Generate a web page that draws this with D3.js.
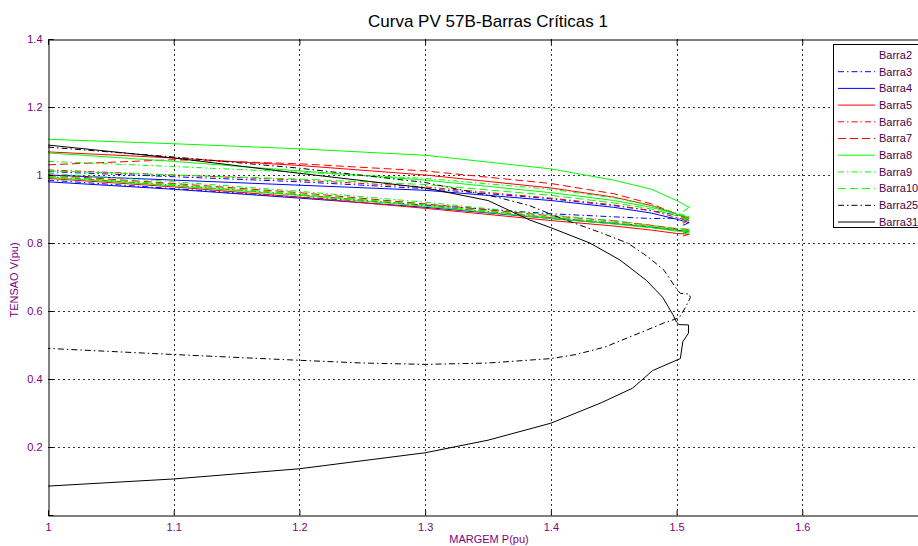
<!DOCTYPE html>
<html>
<head>
<meta charset="utf-8">
<script src="https://cdn.jsdelivr.net/npm/d3@7/dist/d3.min.js"></script>
<style>
  html, body { margin: 0; padding: 0; background: #fff; }
  svg { display: block; font-family: Arial, "Liberation Sans", sans-serif; }
</style>
</head>
<body>
<svg id="chart" width="918" height="546"></svg>
<script>
// Load margin P (pu) sampled along the upper branches of the bus curves
const margem = [1.0, 1.1, 1.2, 1.3, 1.4, 1.45, 1.48, 1.5, 1.51, 1.505];

// Bus voltages V (pu) at each margin value
const barra3a  = [1.010, 0.995, 0.980, 0.960, 0.930, 0.910, 0.895, 0.882, 0.876, 0.870];
const barra3b  = [0.985, 0.960, 0.935, 0.912, 0.886, 0.877, 0.872, 0.873, 0.874, 0.868];
const barra4a  = [1.000, 0.985, 0.970, 0.955, 0.925, 0.905, 0.888, 0.870, 0.860, 0.852];
const barra4b  = [0.980, 0.958, 0.932, 0.905, 0.872, 0.857, 0.846, 0.838, 0.834, 0.828];
const barra5a  = [1.068, 1.050, 1.028, 1.000, 0.962, 0.935, 0.910, 0.885, 0.872, 0.862];
const barra5b  = [0.990, 0.965, 0.935, 0.902, 0.866, 0.850, 0.838, 0.828, 0.826, 0.820];
const barra6a  = [1.015, 1.000, 0.985, 0.965, 0.932, 0.912, 0.895, 0.875, 0.865, 0.858];
const barra6b  = [0.995, 0.970, 0.942, 0.910, 0.875, 0.860, 0.848, 0.838, 0.835, 0.830];
const barra7a  = [1.030, 1.045, 1.033, 1.012, 0.975, 0.945, 0.915, 0.885, 0.870, 0.862];
const barra7b  = [1.000, 0.975, 0.948, 0.915, 0.880, 0.865, 0.852, 0.842, 0.840, 0.834];
const barra8a  = [1.105, 1.092, 1.077, 1.058, 1.018, 0.985, 0.958, 0.925, 0.905, 0.892];
const barra8b  = [1.065, 1.040, 1.012, 0.985, 0.948, 0.925, 0.905, 0.885, 0.875, 0.866];
const barra8c  = [0.993, 0.968, 0.940, 0.908, 0.872, 0.856, 0.845, 0.835, 0.832, 0.826];
const barra9a  = [1.040, 1.025, 1.008, 0.990, 0.958, 0.933, 0.910, 0.888, 0.878, 0.870];
const barra9b  = [1.005, 0.980, 0.952, 0.920, 0.882, 0.866, 0.852, 0.842, 0.840, 0.834];
const barra10a = [1.012, 1.000, 0.988, 0.972, 0.940, 0.918, 0.900, 0.880, 0.870, 0.862];
const barra10b = [0.997, 0.972, 0.944, 0.912, 0.876, 0.860, 0.848, 0.838, 0.836, 0.830];

// Full PV loops (upper branch, nose, lower branch) for buses 25 and 31
const barra25P = [1.0, 1.1, 1.2, 1.3, 1.357, 1.383, 1.41, 1.44, 1.461, 1.477, 1.49, 1.5, 1.503, 1.51, 1.511, 1.507, 1.502, 1.49, 1.477, 1.463, 1.443, 1.42, 1.4, 1.35, 1.3, 1.25, 1.2, 1.1, 1.0];
const barra25V = [1.082, 1.053, 1.020, 0.978, 0.935, 0.910, 0.870, 0.830, 0.800, 0.760, 0.720, 0.665, 0.652, 0.650, 0.640, 0.610, 0.580, 0.565, 0.545, 0.524, 0.494, 0.472, 0.460, 0.447, 0.443, 0.447, 0.455, 0.472, 0.490];
const barra31P = [1.0, 1.1, 1.2, 1.3, 1.35, 1.383, 1.4, 1.431, 1.455, 1.476, 1.489, 1.497, 1.5, 1.502, 1.5095, 1.5095, 1.505, 1.503, 1.481, 1.465, 1.44, 1.4, 1.35, 1.3, 1.2, 1.1, 1.0];
const barra31V = [1.088, 1.050, 1.005, 0.962, 0.925, 0.868, 0.845, 0.800, 0.750, 0.690, 0.640, 0.590, 0.567, 0.560, 0.559, 0.535, 0.510, 0.460, 0.425, 0.373, 0.330, 0.270, 0.220, 0.183, 0.136, 0.106, 0.085];

const xTicks = [1, 1.1, 1.2, 1.3, 1.4, 1.5, 1.6];
const yTicks = [0.2, 0.4, 0.6, 0.8, 1, 1.2, 1.4];
const legendNames = ["Barra2", "Barra3", "Barra4", "Barra5", "Barra6", "Barra7", "Barra8", "Barra9", "Barra10", "Barra25", "Barra31"];

const DASHDOT = "6,3,1.5,3";
const DASHED = "8,4";

const zip = (P, V) => P.map((p, i) => [p, V[i]]);
const onGrid = V => zip(margem, V);

const series = [
  { name: "Barra2",  color: "#ffffff", dash: null,    lines: [] },
  { name: "Barra3",  color: "#0000ff", dash: DASHDOT, lines: [onGrid(barra3a), onGrid(barra3b)] },
  { name: "Barra4",  color: "#0000ff", dash: null,    lines: [onGrid(barra4a), onGrid(barra4b)] },
  { name: "Barra5",  color: "#ff0000", dash: null,    lines: [onGrid(barra5a), onGrid(barra5b)] },
  { name: "Barra6",  color: "#ff0000", dash: DASHDOT, lines: [onGrid(barra6a), onGrid(barra6b)] },
  { name: "Barra7",  color: "#ff0000", dash: DASHED,  lines: [onGrid(barra7a), onGrid(barra7b)] },
  { name: "Barra8",  color: "#00ff00", dash: null,    lines: [onGrid(barra8a), onGrid(barra8b), onGrid(barra8c)] },
  { name: "Barra9",  color: "#00ff00", dash: DASHDOT, lines: [onGrid(barra9a), onGrid(barra9b)] },
  { name: "Barra10", color: "#00ff00", dash: DASHED,  lines: [onGrid(barra10a), onGrid(barra10b)] },
  { name: "Barra25", color: "#000000", dash: DASHDOT, lines: [zip(barra25P, barra25V)] },
  { name: "Barra31", color: "#000000", dash: null,    lines: [zip(barra31P, barra31V)] }
];

const svg = d3.select("#chart");
const W = 918, H = 546;
const plotL = 48, plotT = 39, plotB = 515, plotR = 928;

const x = d3.scaleLinear().domain([1, 1.7]).range([plotL, plotR]);
const y = d3.scaleLinear().domain([0, 1.4]).range([plotB, plotT]);

svg.append("rect").attr("width", W).attr("height", H).attr("fill", "#fff");

svg.append("defs").append("clipPath").attr("id", "plotClip")
  .append("rect").attr("x", plotL).attr("y", plotT).attr("width", plotR - plotL).attr("height", plotB - plotT);

// Dotted grid
const grid = svg.append("g").attr("stroke", "#333").attr("stroke-width", 1).attr("stroke-dasharray", "2,3");
grid.selectAll("line.gx").data(xTicks.slice(1)).join("line")
  .attr("x1", d => Math.round(x(d)) + 0.5).attr("x2", d => Math.round(x(d)) + 0.5)
  .attr("y1", plotT).attr("y2", plotB);
grid.selectAll("line.gy").data(yTicks.slice(0, -1)).join("line")
  .attr("y1", d => Math.round(y(d)) + 0.5).attr("y2", d => Math.round(y(d)) + 0.5)
  .attr("x1", plotL).attr("x2", plotR);

// Curves
const line = d3.line().x(d => x(d[0])).y(d => y(d[1])).curve(d3.curveLinear);
const plot = svg.append("g").attr("clip-path", "url(#plotClip)");
series.forEach(s => {
  plot.selectAll(null).data(s.lines).join("path")
    .attr("d", line)
    .attr("fill", "none")
    .attr("stroke", s.color)
    .attr("stroke-width", 1)
    .attr("stroke-dasharray", s.dash);
});

// Axes (ticks pointing inward, MATLAB style)
const xAxis = d3.axisBottom(x).tickValues(xTicks).tickSize(-5).tickPadding(8).tickFormat(d3.format("~g"));
const yAxis = d3.axisLeft(y).tickValues(yTicks).tickSize(-5).tickPadding(6).tickFormat(d3.format("~g"));

const gx = svg.append("g").attr("transform", `translate(0,${plotB + 0.5})`).call(xAxis);
const gy = svg.append("g").attr("transform", `translate(${plotL + 0.5},0)`).call(yAxis);
[gx, gy].forEach(g => {
  g.select(".domain").attr("stroke", "#000");
  g.selectAll(".tick line").attr("stroke", "#000");
  g.selectAll(".tick text").attr("fill", "#800080").attr("font-size", 11)
    .attr("font-family", "Arial, 'Liberation Sans', sans-serif");
});

// Top axis line with inward ticks
const gt = svg.append("g").attr("transform", `translate(0,${plotT + 0.5})`)
  .call(d3.axisTop(x).tickValues(xTicks).tickSize(-5).tickFormat(""));
gt.select(".domain").attr("stroke", "#000");
gt.selectAll(".tick line").attr("stroke", "#000");

// Title and axis labels
svg.append("text").attr("x", 488).attr("y", 27).attr("text-anchor", "middle")
  .attr("font-size", 17).attr("fill", "#000").text("Curva PV 57B-Barras Críticas 1");
svg.append("text").attr("x", 489).attr("y", 543).attr("text-anchor", "middle")
  .attr("font-size", 11).attr("fill", "#800080").text("MARGEM P(pu)");
svg.append("text").attr("transform", "translate(18,280) rotate(-90)").attr("text-anchor", "middle")
  .attr("font-size", 11).attr("fill", "#800080").text("TENSAO V(pu)");

// Legend
const lg = svg.append("g");
lg.append("rect").attr("x", 833.5).attr("y", 44.5).attr("width", 92).attr("height", 183)
  .attr("fill", "#fff").attr("stroke", "#000").attr("stroke-width", 1);
const rowY = i => 55 + i * 16.7;
series.forEach((s, i) => {
  lg.append("line").attr("x1", 838).attr("x2", 875).attr("y1", rowY(i)).attr("y2", rowY(i))
    .attr("stroke", s.color).attr("stroke-width", 1).attr("stroke-dasharray", s.dash);
  lg.append("text").attr("x", 879).attr("y", rowY(i)).attr("dy", "0.35em")
    .attr("font-size", 11).attr("fill", "#4a004a").text(legendNames[i]);
});
</script>
</body>
</html>
